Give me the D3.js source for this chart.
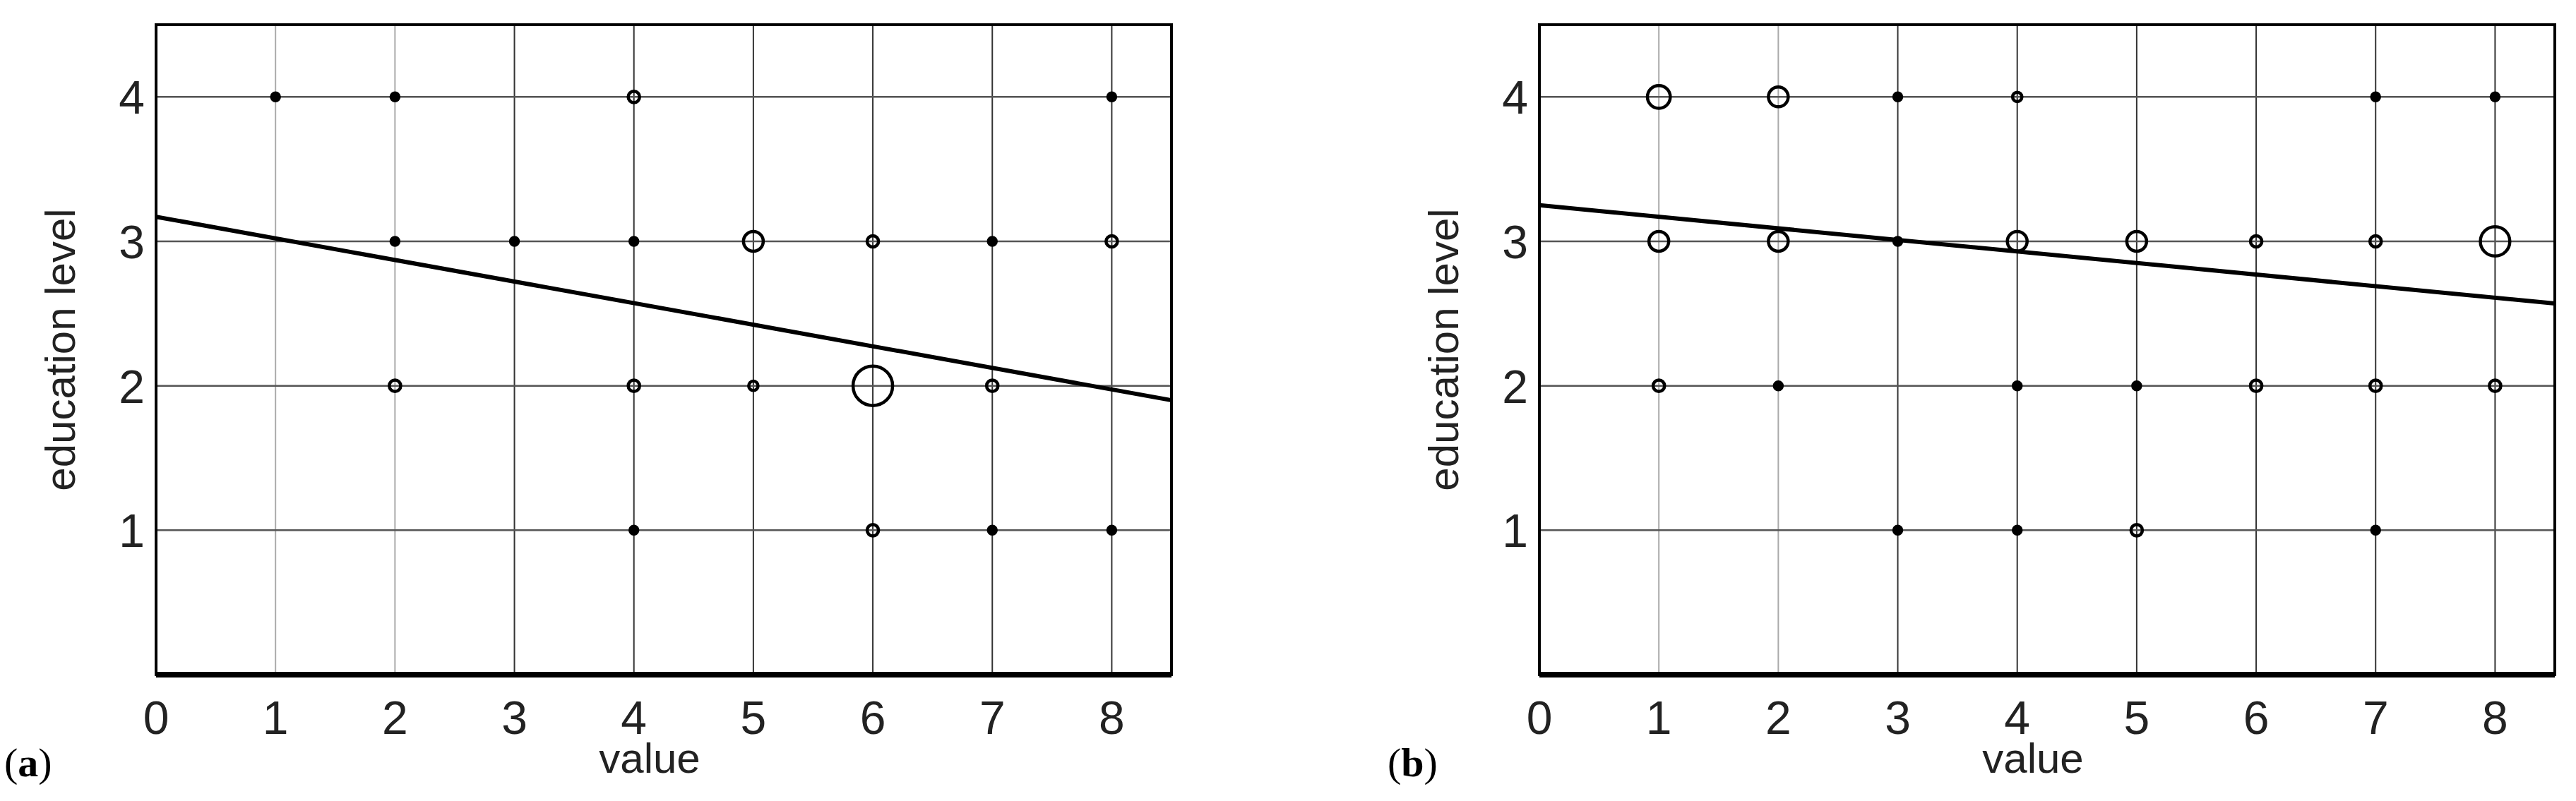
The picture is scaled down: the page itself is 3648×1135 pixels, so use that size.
<!DOCTYPE html>
<html><head><meta charset="utf-8">
<script src="https://cdn.jsdelivr.net/npm/d3@7"></script>
<style>body{margin:0;background:#fff}</style>
</head><body>
<script>
// tick values
var xTicks = [0,1,2,3,4,5,6,7,8];
var yTicks = [1,2,3,4];
// points: [value, education level, count]
var pointsA = [
  [1,4,1],[2,4,1],[4,4,3],[8,4,1],
  [2,3,1],[3,3,1],[4,3,1],[5,3,9],[6,3,3],[7,3,1],[8,3,3],
  [2,2,3],[4,2,3],[5,2,2],[6,2,36],[7,2,3],
  [4,1,1],[6,1,3],[7,1,1],[8,1,1]
];
var pointsB = [
  [1,4,12],[2,4,9],[3,4,1],[4,4,2],[7,4,1],[8,4,1],
  [1,3,9],[2,3,9],[3,3,1],[4,3,9],[5,3,9],[6,3,3],[7,3,3],[8,3,20],
  [1,2,3],[2,2,1],[4,2,1],[5,2,1],[6,2,3],[7,2,3],[8,2,3],
  [3,1,1],[4,1,1],[5,1,3],[7,1,1]
];
// regression line endpoints [value, level]
var lineA = [[0,3.17],[8.5,1.9]];
var lineB = [[0,3.25],[8.5,2.57]];
// grid line shade per x tick
var xGridDark = [false,false,false,true,true,true,true,true,true];

var svg = d3.select("body").append("svg").attr("width",3648).attr("height",1135);

function panel(left, label, pts, line) {
  var top = 35, bottom = 956, right = left + 1438;
  var x = d3.scaleLinear().domain([0,8.5]).range([left,right]);
  var y = d3.scaleLinear().domain([0,4.5]).range([bottom,top]);
  var r = d3.scaleSqrt().domain([0,36]).range([0,28]);
  var g = svg.append("g");
  g.selectAll(".vg").data(xTicks.slice(1)).join("line")
    .attr("x1",d=>x(d)).attr("x2",d=>x(d)).attr("y1",top).attr("y2",bottom)
    .attr("stroke",(d,i)=>xGridDark[i+1]?"#333":"#aaa").attr("stroke-width",2);
  g.selectAll(".hg").data(yTicks).join("line")
    .attr("x1",left).attr("x2",right).attr("y1",d=>y(d)).attr("y2",d=>y(d))
    .attr("stroke","#555").attr("stroke-width",2.5);
  g.append("rect").attr("x",left).attr("y",top).attr("width",right-left).attr("height",bottom-top)
    .attr("fill","none").attr("stroke","#000").attr("stroke-width",4);
  g.append("line").attr("x1",left).attr("x2",right).attr("y1",bottom).attr("y2",bottom)
    .attr("stroke","#000").attr("stroke-width",8);
  g.append("line").attr("x1",x(line[0][0])).attr("y1",y(line[0][1]))
    .attr("x2",x(line[1][0])).attr("y2",y(line[1][1]))
    .attr("stroke","#000").attr("stroke-width",6);
  g.selectAll("circle").data(pts).join("circle")
    .attr("cx",d=>x(d[0])).attr("cy",d=>y(d[1])).attr("r",d=>Math.max(r(d[2]),5.5))
    .attr("fill",d=>d[2]==1?"#000":"none").attr("stroke","#000").attr("stroke-width",4.5);
  var ff = "'Liberation Sans Narrow', 'Liberation Sans', Arial, sans-serif";
  g.selectAll(".xt").data(xTicks).join("text")
    .attr("x",d=>x(d)).attr("y",1040).attr("text-anchor","middle")
    .attr("font-family",ff).attr("font-size",66).attr("fill","#222").text(d=>d);
  g.selectAll(".yt").data(yTicks).join("text")
    .attr("x",left-16).attr("y",d=>y(d)+24).attr("text-anchor","end")
    .attr("font-family",ff).attr("font-size",66).attr("fill","#222").text(d=>d);
  g.append("text").attr("x",(left+right)/2-20).attr("y",1095).attr("text-anchor","middle")
    .attr("font-family",ff).attr("font-size",60).attr("fill","#222").text("value");
  g.append("text").attr("transform","translate("+(left-115)+","+y(2.25)+") rotate(-90)")
    .attr("text-anchor","middle").attr("font-family",ff).attr("font-size",60).attr("fill","#222")
    .text("education level");
  var t = g.append("text").attr("x",left-215).attr("y",1100)
    .attr("font-family","'Liberation Serif', serif").attr("font-size",58).attr("fill","#000");
  t.append("tspan").text("(");
  t.append("tspan").attr("font-weight","bold").text(label);
  t.append("tspan").text(")");
}
panel(221, "a", pointsA, lineA);
panel(2180, "b", pointsB, lineB);
</script>
</body></html>
